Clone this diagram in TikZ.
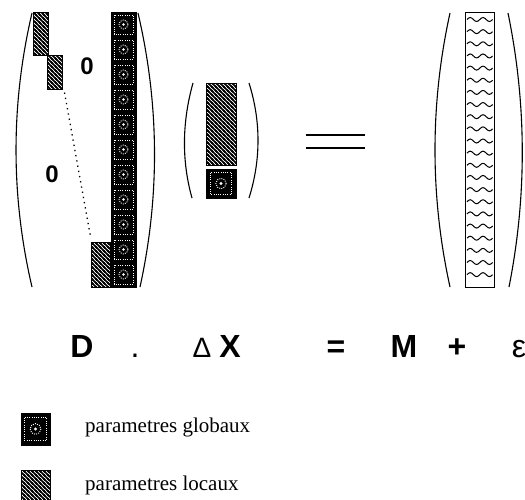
\documentclass[tikz,border=0pt]{standalone}
\usepackage{fontspec}
\setmainfont{Liberation Serif}
\newfontfamily\symfont{Liberation Sans}
\usetikzlibrary{patterns}

% hatching of the local blocks
\pgfdeclarepatternformonly{locstripes}{\pgfqpoint{-1pt}{-1pt}}{\pgfqpoint{5pt}{5pt}}{\pgfqpoint{4pt}{4pt}}{%
  \pgfsetlinewidth{1.5pt}
  \pgfpathmoveto{\pgfqpoint{-1pt}{5pt}}\pgfpathlineto{\pgfqpoint{5pt}{-1pt}}
  \pgfpathmoveto{\pgfqpoint{-1pt}{1pt}}\pgfpathlineto{\pgfqpoint{1pt}{-1pt}}
  \pgfpathmoveto{\pgfqpoint{3pt}{5pt}}\pgfpathlineto{\pgfqpoint{5pt}{3pt}}
  \pgfusepath{stroke}}

\tikzset{
  paren/.style={line width=1.1pt},
  locblock/.style={draw, line width=1pt, pattern=locstripes, inner sep=0pt},
  globblock/.style={draw, line width=1pt, fill=black, inner sep=0pt},
  globcell/.pic={
    \draw[white, line width=1pt, dash pattern=on 1pt off 1.3pt] (-9.5,-9.5) rectangle (9.5,9.5);
    \draw[white, line width=0.9pt, dash pattern=on 1pt off 1.2pt] (0,0) circle (4.5);
    \fill[white] (0,0) circle (1.4);
  },
  eqsym/.style={font=\symfont\bfseries\fontsize{32}{32}\selectfont, anchor=base, inner sep=0pt},
  zero/.style={font=\symfont\bfseries\fontsize{24}{24}\selectfont, inner sep=0pt},
  legend/.style={font=\fontsize{21}{21}\selectfont, anchor=base west, inner sep=0pt},
}

\begin{document}
\begin{tikzpicture}[x=1pt, y=-1pt]
	\useasboundingbox (0,0) rectangle (525,499);
	
	% Matrix D
	\draw[paren] (32,13) .. controls (10.7,104) and (10.7,196) .. (32,287);
	\draw[paren] (138,13) .. controls (159.3,104) and (160,196) .. (140,287);
	\node[locblock, minimum width=15pt, minimum height=43pt] (loc1) at (40.5,33.5) {};
	\node[locblock, minimum width=15pt, minimum height=34pt] (loc2) at (54.5,72) {};
	\node[locblock, minimum width=19pt, minimum height=45pt] (loc3) at (100.5,264.5) {};
	\draw[line width=1.3pt, dash pattern=on 1.3pt off 4pt] ([shift={(2,3)}]loc2.south east) -- ([shift={(0,-5)}]loc3.north west);
	\node[globblock, minimum width=25pt, minimum height=275pt] (glob) at (123.5,149.5) {};
	\foreach \k in {0,...,10}
		\pic at (123.5,24.5+25*\k) {globcell};
	\node[zero] (zup) at (87,66) {0};
	\node[zero] (zlow) at (52,174) {0};
	
	% Vector Delta X
	\draw[paren] (193,83) .. controls (182.3,121) and (181.3,160) .. (192,198);
	\draw[paren] (249,83) .. controls (261,121) and (261,160) .. (249,198);
	\node[locblock, minimum width=30pt, minimum height=82pt] (dxloc) at (221,124) {};
	\node[globblock, minimum width=30pt, minimum height=29pt] (dxglob) at (221,183.5) {};
	\pic[scale=1.15] at (221,183.5) {globcell};
	
	% equals
	\draw[line width=1.6pt] (306,135) -- (365,135);
	\draw[line width=1.6pt] (306,148) -- (365,148);
	
	% Vector M
	\draw[paren] (450,13) .. controls (430,104) and (430,196) .. (450,287);
	\draw[paren] (508,13) .. controls (526.7,104) and (527,196) .. (509,287);
	\node[draw, line width=1pt, fill=white, minimum width=29pt, minimum height=275pt, inner sep=0pt] (mvec) at (479.5,149.5) {};
	\foreach \k in {0,...,21}
		\draw[line width=1pt] (467,19.5+12.15*\k) sin ++(3.2,-2) cos ++(3.2,2) sin ++(3.2,2) cos ++(3.2,-2)
			sin ++(3.2,-2) cos ++(3.2,2) sin ++(3.2,2) cos ++(3.2,-2);
	
	% D . Delta X = M + epsilon
	\node[eqsym] (eqD) at (82,357) {D};
	\node[eqsym, font=\symfont\fontsize{32}{32}\selectfont] (eqdot) at (135,357) {.};
	\node[eqsym, font=\symfont\fontsize{28}{28}\selectfont] (eqdelta) at (202,357) {Δ};
	\node[eqsym] (eqX) at (230,357) {X};
	\node[eqsym] (eqeq) at (336,357) {=};
	\node[eqsym] (eqM) at (404,357) {M};
	\node[eqsym] (eqplus) at (457,357) {+};
	\node[eqsym, font=\symfont\fontsize{32}{32}\selectfont] (eqeps) at (519,357) {ε};
	
	% Legend
	\node[globblock, minimum width=29pt, minimum height=32pt] (legglob) at (35.5,429) {};
	\pic[scale=1.2] at (35.5,429) {globcell};
	\node[legend] (txtglob) at (85,432) {parametres globaux};
	\node[locblock, minimum width=29pt, minimum height=32pt] (legloc) at (35.5,486) {};
	\node[legend] (txtloc) at (85,490) {parametres locaux};
\end{tikzpicture}
\end{document}
